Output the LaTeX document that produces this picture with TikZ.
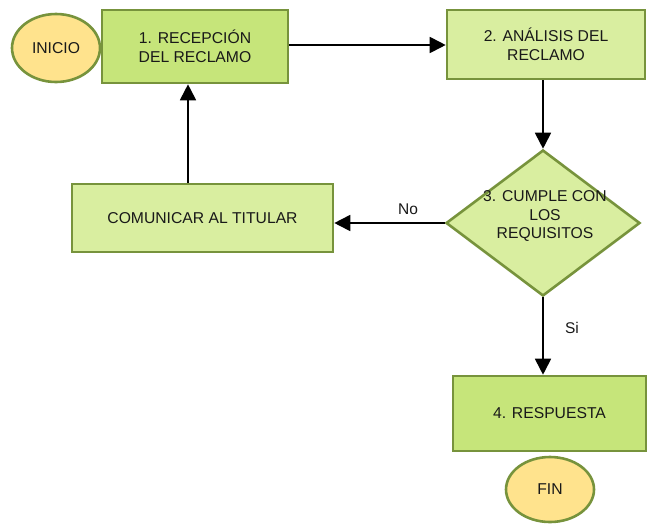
\documentclass[tikz,border=0pt]{standalone}
\usepackage{fontspec}
\setmainfont{Liberation Sans}
\usetikzlibrary{shapes.geometric,arrows.meta}
\definecolor{bord}{HTML}{77933C}
\definecolor{darkfill}{HTML}{C6E57A}
\definecolor{lightfill}{HTML}{D9EEA0}
\definecolor{oval}{HTML}{FFE38D}
\begin{document}
\begin{tikzpicture}[x=1pt,y=-1pt,
  every node/.style={font=\fontsize{15.7}{18.5}\selectfont, text=black!90, inner sep=0pt},
  procbox/.style={draw=bord, line width=2.6pt, rectangle, align=center},
  darkbox/.style={procbox, fill=darkfill},
  lightbox/.style={procbox, fill=lightfill},
  terminal/.style={draw=bord, line width=2.6pt, ellipse, fill=oval},
  decision/.style={draw=bord, line width=2.6pt, diamond, fill=lightfill},
  arr/.style={draw=black, line width=1.8pt, -{Triangle[length=16pt,width=16pt]}},
  lbl/.style={font=\fontsize{15.5}{18}\selectfont}]
\useasboundingbox (0,0) rectangle (647,523);
\node[terminal, minimum width=88pt, minimum height=68pt] (inicio) at (56,48) {INICIO};
\node[darkbox, minimum width=186pt, minimum height=73pt] (b1) at (195,46.5) {1. RECEPCIÓN\\DEL RECLAMO};
\node[lightbox, minimum width=198pt, minimum height=69pt] (b2) at (546,44.5) {2. ANÁLISIS DEL\\RECLAMO};
\node[decision, minimum width=194pt, minimum height=146pt] (d3) at (543,223) {};
\node[align=center] (d3t) at (545,216) {3. CUMPLE CON\\LOS\\REQUISITOS};
\node[lightbox, minimum width=261pt, minimum height=68pt] (comm) at (202.5,218) {COMUNICAR AL TITULAR};
\node[darkbox, minimum width=193pt, minimum height=75pt] (b4) at (549.5,413.5) {4. RESPUESTA};
\node[terminal, minimum width=88pt, minimum height=65pt] (fin) at (550,489.5) {FIN};
\draw[arr] (b1.east |- 0,45) -- (b2.west |- 0,45);
\draw[arr] (b2.south -| d3.north) -- (d3.north);
\draw[arr] (d3.west) -- (d3.west -| comm.east);
\draw[arr] ([xshift=-14.5pt]comm.north) -- ([xshift=-14.5pt]comm.north |- b1.south);
\draw[arr] (d3.south) -- (d3.south |- b4.north);
\node[lbl] (no) at (408,209) {No};
\node[lbl] (si) at (572,328) {Si};
\end{tikzpicture}
\end{document}
